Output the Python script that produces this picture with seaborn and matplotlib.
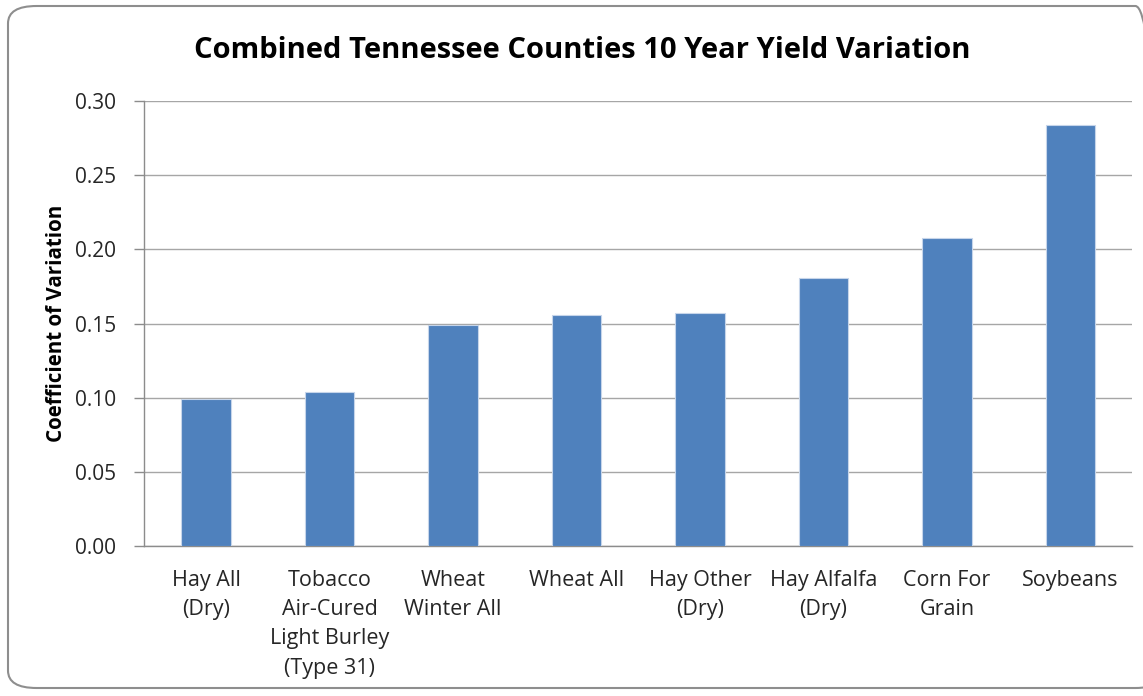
import matplotlib
matplotlib.use("Agg")
import matplotlib.pyplot as plt
import seaborn as sns
import pandas as pd
from matplotlib.patches import FancyBboxPatch
from matplotlib.ticker import MultipleLocator, FixedLocator

crops = [
    "Hay All\n(Dry)",
    "Tobacco\nAir-Cured\nLight Burley\n(Type 31)",
    "Wheat\nWinter All",
    "Wheat All",
    "Hay Other\n(Dry)",
    "Hay Alfalfa\n(Dry)",
    "Corn For\nGrain",
    "Soybeans",
]
cv = [0.099, 0.1036, 0.1491, 0.1557, 0.157, 0.1807, 0.2077, 0.2838]

df = pd.DataFrame({"crop": crops, "cv": cv})

sns.set_theme(style="white")
plt.rcParams["font.family"] = ["Open Sans", "DejaVu Sans"]

fig = plt.figure(figsize=(11.43, 6.96), dpi=100)
ax = fig.add_axes([0.1262, 0.2155, 0.8644, 0.6394])

sns.barplot(data=df, x="crop", y="cv", color="#4F81BD", saturation=1,
            width=0.4, edgecolor="#C6D5EA", linewidth=0.8, ax=ax, zorder=3)

ax.set_ylim(0, 0.30)
ax.set_xlim(-0.5, len(crops) - 0.5)
ax.yaxis.set_major_locator(MultipleLocator(0.05))
ax.yaxis.set_major_formatter(matplotlib.ticker.FormatStrFormatter("%.2f"))
ax.grid(axis="y", color="#A6A6A6", linewidth=1.0, zorder=0)
ax.set_axisbelow(True)

for s in ["top", "right"]:
    ax.spines[s].set_visible(False)
for s in ["left", "bottom"]:
    ax.spines[s].set_color("#8C8C8C")
    ax.spines[s].set_linewidth(1.0)

# category labels centred under bars, tick marks between categories
ax.tick_params(axis="x", which="major", length=0, pad=17, labelsize=15.5,
               labelcolor="#262626")
ax.xaxis.set_minor_locator(FixedLocator([i - 0.5 for i in range(len(crops) + 1)]))
ax.tick_params(axis="x", which="minor", length=7, width=1, color="#8C8C8C",
               direction="out")
for lbl in ax.get_xticklabels():
    lbl.set_linespacing(1.52)
    lbl.set_verticalalignment("top")

ax.tick_params(axis="y", length=7, width=1, color="#8C8C8C", direction="out",
               pad=13, labelsize=15, labelcolor="#262626", left=True)

ax.set_xlabel("")
ax.set_ylabel("Coefficient of Variation", fontsize=14.8, fontweight="bold",
              color="black")
ax.yaxis.set_label_coords(-0.078, 0.5)

fig.text(0.509, 1 - 50 / 696, "Combined Tennessee Counties 10 Year Yield Variation",
         ha="center", va="center", fontsize=21, fontweight="bold", color="black")

frame = FancyBboxPatch((8 / 1143, 8 / 696), 1156 / 1143, 682 / 696,
                       boxstyle="round,pad=0,rounding_size=0.025",
                       transform=fig.transFigure, facecolor="none",
                       edgecolor="#8E8E8E", linewidth=1.5, zorder=-1)
fig.patches.append(frame)

fig.savefig("out.png", dpi=100)
